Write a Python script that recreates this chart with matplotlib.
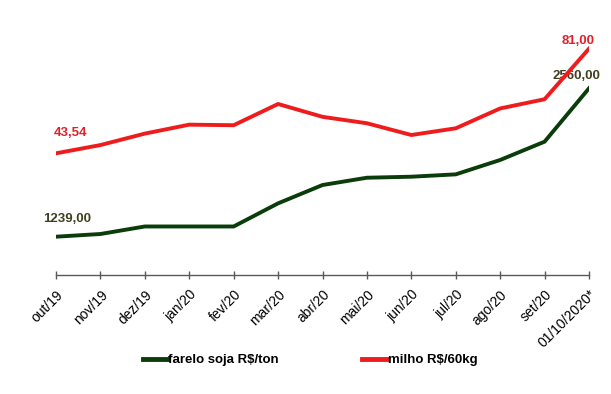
import matplotlib
matplotlib.use("Agg")
import matplotlib.pyplot as plt

categories = ["out/19", "nov/19", "dez/19", "jan/20", "fev/20", "mar/20", "abr/20",
              "mai/20", "jun/20", "jul/20", "ago/20", "set/20", "01/10/2020*"]
farelo_soja = [1239, 1263, 1330, 1330, 1330, 1536, 1699, 1764, 1773, 1794, 1922, 2085, 2560]
milho = [43.54, 46.5, 50.6, 53.8, 53.6, 61.2, 56.6, 54.3, 50.1, 52.5, 59.6, 62.9, 81.00]
series_names = ["farelo soja R$/ton", "milho R$/60kg"]

plt.rcParams['font.family'] = ['Liberation Sans', 'DejaVu Sans']

W, H = 611, 394
fig = plt.figure(figsize=(W / 100, H / 100), dpi=100)
left, right = 56 / W, 589 / W
bottom, top = (H - 275) / H, (H - 23.5) / H
ax = fig.add_axes([left, bottom, right - left, top - bottom])
ax2 = ax.twinx()

x = list(range(len(categories)))
green = "#0b3d0b"
red = "#ee1c1c"
lg, = ax.plot(x, farelo_soja, color=green, lw=2.8, solid_joinstyle='round', zorder=3)
lr, = ax2.plot(x, milho, color=red, lw=2.8, solid_joinstyle='round', zorder=3)

ax.set_xlim(0, len(categories) - 1)
ax.set_ylim(898, 3137)
ax2.set_ylim(0, 90)

for a in (ax, ax2):
    for s in ("top", "left", "right"):
        a.spines[s].set_visible(False)
    a.set_yticks([])
ax2.spines["bottom"].set_visible(False)
ax.spines["bottom"].set_color("#595959")
ax.spines["bottom"].set_linewidth(1.0)

ax.set_xticks(x)
ax.set_xticklabels(categories, rotation=45, ha='right', va='top',
                   rotation_mode='anchor', fontsize=10, color="#000000")
ax.tick_params(axis='x', direction='inout', length=6, width=1, color="#595959", pad=6)

def fmt(v):
    return f"{v:.2f}".replace(".", ",")

lab_font = dict(fontsize=9.5, fontweight='bold', family=['Liberation Sans Narrow', 'Liberation Sans'])
ax.annotate(fmt(farelo_soja[0]), (x[0], farelo_soja[0]), xytext=(11, 12),
            textcoords='offset pixels', ha='center', va='bottom', color="#404020", **lab_font)
ax.annotate(fmt(farelo_soja[-1]), (x[-1], farelo_soja[-1]), xytext=(-13, 6),
            textcoords='offset pixels', ha='center', va='bottom', color="#404020", **lab_font)
ax2.annotate(fmt(milho[0]), (x[0], milho[0]), xytext=(15, 14),
             textcoords='offset pixels', ha='center', va='bottom', color="#e0202a", **lab_font)
ax2.annotate(fmt(milho[-1]), (x[-1], milho[-1]), xytext=(-11, 2),
             textcoords='offset pixels', ha='center', va='bottom', color="#e0202a", **lab_font)

leg = fig.legend([lg, lr], series_names, loc='center', ncol=2,
                 bbox_to_anchor=(310 / W, 1 - 360 / H), frameon=False,
                 prop=dict(size=9.5, weight='bold'), handlelength=1.9,
                 handletextpad=0.05, columnspacing=6.3)
for h in leg.legend_handles:
    h.set_linewidth(3.5)

fig.savefig("out.png", dpi=100)
